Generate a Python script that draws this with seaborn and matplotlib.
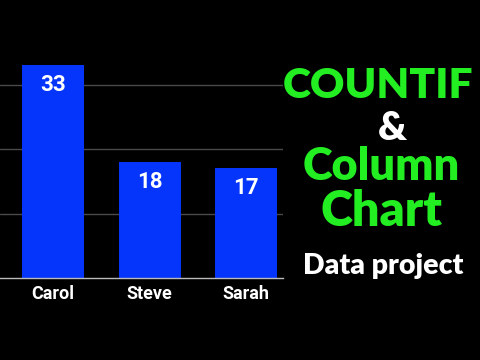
import matplotlib
matplotlib.use("Agg")
import matplotlib.pyplot as plt
import seaborn as sns
import pandas as pd

names = ["Carol", "Steve", "Sarah"]
counts = [33, 18, 17]
title_lines = ["COUNTIF", "&", "Column", "Chart", "Data project"]

sns.set_theme(style="dark")
plt.rcParams["font.family"] = ["Roboto", "DejaVu Sans"]

df = pd.DataFrame({"name": names, "count": counts})

fig = plt.figure(figsize=(4.8, 3.6), dpi=100, facecolor="black")
ax = fig.add_axes([0.0, 82 / 360, 283 / 480, 258 / 360])
ax.set_facecolor("black")

sns.barplot(data=df, x="name", y="count", color="#0535FA", width=0.64,
            saturation=1, ax=ax, zorder=3, edgecolor="none", linewidth=0)
ax.set_ylim(0, 40)
ax.set_xlim(-0.55, 2.38)
ax.set_yticks([10, 20, 30])
ax.set_yticklabels([])
ax.tick_params(axis="y", length=0)
ax.tick_params(axis="x", length=0, pad=5, colors="white", labelsize=13)
for lab in ax.get_xticklabels():
    lab.set_fontweight("bold")
ax.grid(axis="y", color="#4a4a4a", linewidth=1, zorder=0)
ax.grid(axis="x", visible=False)
for s in ["top", "right", "left"]:
    ax.spines[s].set_visible(False)
ax.spines["bottom"].set_color("#bbbbbb")
ax.spines["bottom"].set_linewidth(1)
ax.spines["bottom"].set_zorder(4)
ax.set_xlabel("")
ax.set_ylabel("")

for i, c in enumerate(counts):
    ax.annotate(str(c), (i, c), xytext=(0, -14.5), textcoords="offset points",
                ha="center", va="center", color="white", fontsize=16,
                fontweight="bold", zorder=5)

# right-hand title text, fitted to target widths (pixels)
specs = [
    (title_lines[0], "#22EE22", 378, 98, 190),
    (title_lines[1], "white", 392, 140, 29),
    (title_lines[2], "#22EE22", 381.5, 180, 157),
    (title_lines[3], "#22EE22", 381, 226.5, 122),
    (title_lines[4], "white", 383, 274, 160),
]
fig.canvas.draw()
renderer = fig.canvas.get_renderer()
for txt, col, xc, yb, w in specs:
    t = fig.text(xc / 480, 1 - yb / 360, txt, color=col, ha="center",
                 va="baseline", fontsize=30, fontweight="heavy",
                 family=["Lato", "DejaVu Sans"])
    ext = t.get_window_extent(renderer)
    t.set_fontsize(30 * w / ext.width)

fig.savefig("out.png", dpi=100, facecolor="black")
